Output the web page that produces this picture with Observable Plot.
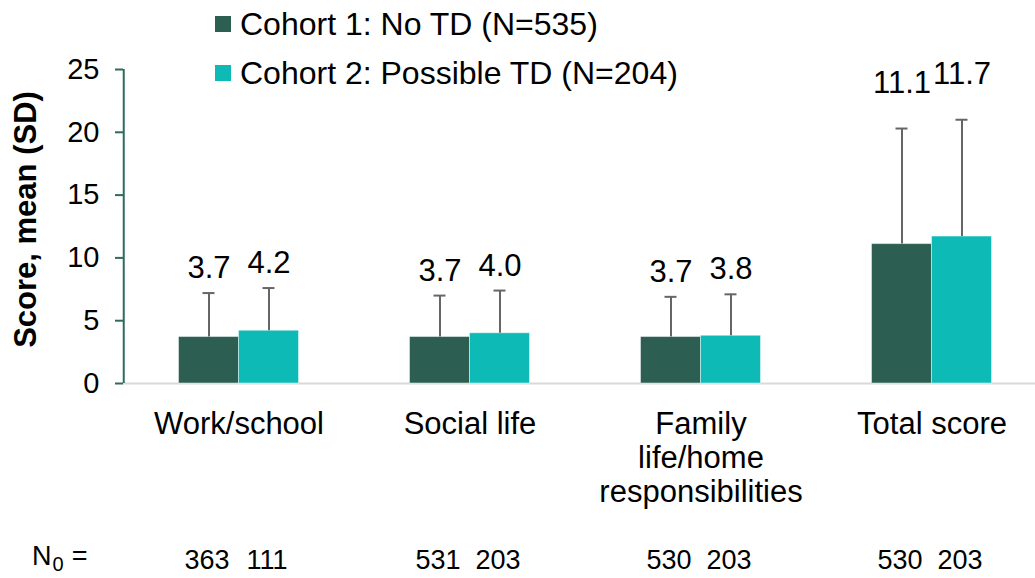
<!DOCTYPE html>
<html>
<head>
<meta charset="utf-8">
<script src="https://cdn.jsdelivr.net/npm/d3@7"></script>
<script src="https://cdn.jsdelivr.net/npm/@observablehq/plot@0.6"></script>
<style>
  body { margin: 0; background: #fff; font-family: "Liberation Sans", Arial, sans-serif; }
  #wrap { position: relative; width: 1035px; height: 578px; }
  .leg { position: absolute; left: 215px; font-size: 32px; line-height: normal; color: #000; white-space: nowrap; }
  .leg .sw { position: absolute; left: 0; width: 16px; height: 16px; }
  .leg .tx { position: absolute; left: 25px; }
  #n0 { position: absolute; left: 32px; top: 541px; font-size: 27px; line-height: normal; white-space: nowrap; }
  #n0 sub { font-size: 20px; vertical-align: -6px; line-height: 0; margin-left: 1px; margin-right: 8px; }
</style>
</head>
<body>
<div id="wrap"></div>
<script>
// ---- data ----
const categories = ["Work/school", "Social life", "Family life/home responsibilities", "Total score"];
const categoryLabels = ["Work/school", "Social life", "Family\nlife/home\nresponsibilities", "Total score"];
const cohorts = ["Cohort 1: No TD (N=535)", "Cohort 2: Possible TD (N=204)"];
const cohort1Mean = [3.7, 3.7, 3.7, 11.1];
const cohort1SD   = [3.5, 3.3, 3.2, 9.2];
const cohort2Mean = [4.2, 4.0, 3.8, 11.7];
const cohort2SD   = [3.4, 3.4, 3.3, 9.3];
const cohort1N = [363, 531, 530, 530];
const cohort2N = [111, 203, 203, 203];
const yTicks = [0, 5, 10, 15, 20, 25];
const yTitle = "Score, mean (SD)";
const colors = ["#2c5f52", "#0dbab6"];

const rows = [];
categories.forEach((c, i) => {
  rows.push({cat: c, cohort: cohorts[0], mean: cohort1Mean[i], sd: cohort1SD[i], n: cohort1N[i]});
  rows.push({cat: c, cohort: cohorts[1], mean: cohort2Mean[i], sd: cohort2SD[i], n: cohort2N[i]});
});
const catRows = categories.map((c, i) => ({cat: c, label: categoryLabels[i]}));
const firstFacet = [{cat: categories[0]}];

const font = "'Liberation Sans', Arial, sans-serif";

// layout constants
const W = 1035, mL = 122.5, mR = -11.5, outerPad = 0.91;
const facetW = (W - mL - mR) / categories.length;
const step = facetW / (2 + 2 * outerPad);
const axisDx = -(outerPad * step + step / 2); // from centre of first cohort band to facet's left edge

const chart = Plot.plot({
  width: W,
  height: 578,
  marginTop: 69,
  marginBottom: 195,
  marginLeft: mL,
  marginRight: mR,
  style: {fontFamily: font, fontSize: "29px", color: "#000", background: "#fff", overflow: "visible"},
  fx: {domain: categories, padding: 0, axis: null},
  x: {domain: cohorts, paddingInner: 0, paddingOuter: outerPad, align: 0.5, axis: null},
  y: {domain: [0, 25], axis: null},
  color: {domain: cohorts, range: colors},
  marks: [
    Plot.ruleY([0], {stroke: "#d9d9d9", strokeWidth: 2}),
    Plot.barY(rows, {fx: "cat", x: "cohort", y: "mean", fill: "cohort", stroke: "#ffffff", strokeOpacity: 0.45, strokeWidth: 1}),
    Plot.ruleX(rows, {fx: "cat", x: "cohort", y1: "mean", y2: d => d.mean + d.sd, stroke: "#666666", strokeWidth: 2}),
    Plot.tickY(rows, {fx: "cat", x: "cohort", y: d => d.mean + d.sd, stroke: "#666666", strokeWidth: 2, insetLeft: 24, insetRight: 24}),
    Plot.text(rows, {fx: "cat", x: "cohort", y: d => d.mean + d.sd, text: d => d.mean.toFixed(1),
      lineAnchor: "bottom", fontSize: 31, fill: "#000", filter: d => d.cat !== "Total score", dy: -15}),
    Plot.text(rows, {fx: "cat", x: "cohort", y: d => d.mean + d.sd, text: d => d.mean.toFixed(1),
      lineAnchor: "bottom", fontSize: 31, fill: "#000", filter: d => d.cat === "Total score", dy: -36}),
    Plot.text(catRows, {fx: "cat", text: "label", frameAnchor: "bottom", lineAnchor: "top", dy: 26, fontSize: 31, lineHeight: 1.1, fill: "#000"}),
    Plot.text(rows, {fx: "cat", x: "cohort", text: "n", frameAnchor: "bottom", lineAnchor: "bottom", dy: 185, dx: -2, fontSize: 27, fill: "#000"}),
    Plot.axisY({ticks: yTicks, tickSize: 8, tickPadding: 16, stroke: "#2e6b5a", strokeWidth: 2, fill: "#000", fontSize: 29, label: null}),
    Plot.ruleX(firstFacet, {fx: "cat", x: () => cohorts[0], y1: 0, y2: 25, dx: axisDx, stroke: "#2e6b5a", strokeWidth: 2}),
    Plot.text(firstFacet, {fx: "cat", text: () => yTitle, frameAnchor: "left", textAnchor: "middle", lineAnchor: "middle", dx: -97, dy: -7, rotate: -90, fontSize: 31, fontWeight: "bold", fill: "#000"})
  ]
});

const wrap = document.getElementById("wrap");
wrap.appendChild(chart);

// legend
cohorts.forEach((c, i) => {
  const d = document.createElement("div");
  d.className = "leg";
  d.style.top = (i === 0 ? 6 : 55) + "px";
  d.innerHTML = `<span class="sw" style="background:${colors[i]}; top:10px"></span><span class="tx">${c}</span>`;
  wrap.appendChild(d);
});
const n0 = document.createElement("div");
n0.id = "n0";
n0.innerHTML = "N<sub>0</sub>=";
wrap.appendChild(n0);
</script>
</body>
</html>
